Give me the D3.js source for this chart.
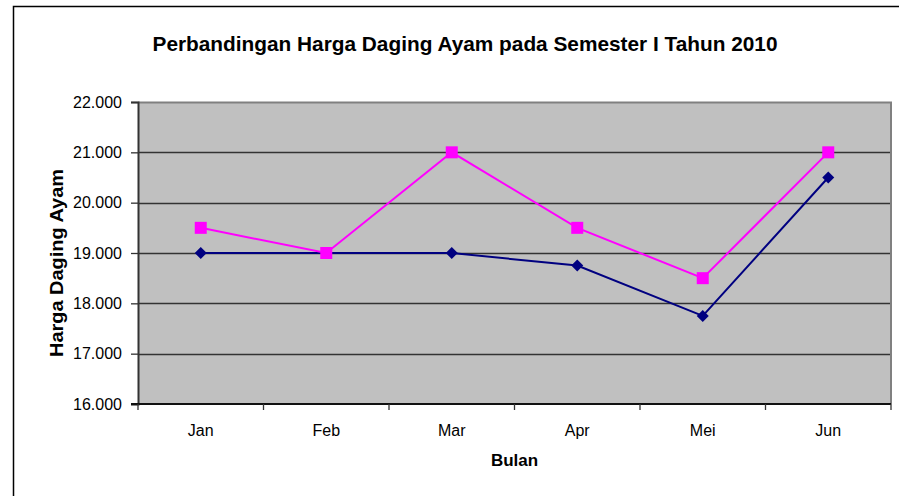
<!DOCTYPE html>
<html>
<head>
<meta charset="utf-8">
<script src="https://cdn.jsdelivr.net/npm/d3@7"></script>
<style>
  body { margin: 0; background: #fff; }
  text { font-family: Arial, "Liberation Sans", sans-serif; fill: #000; }
</style>
</head>
<body>
<div id="chart"></div>
<script>
// Data
const months = ["Jan", "Feb", "Mar", "Apr", "Mei", "Jun"];
const seriesNavy = [19000, 19000, 19000, 18750, 17750, 20500];
const seriesPink = [19500, 19000, 21000, 19500, 18500, 21000];
const yTicks = [16000, 17000, 18000, 19000, 20000, 21000, 22000];

const width = 899, height = 496;
const plot = { left: 138, right: 891, top: 102, bottom: 404 };

const svg = d3
  .select("#chart")
  .append("svg")
  .attr("width", width)
  .attr("height", height);

// outer chart border (continues past the picture)
svg
  .append("rect")
  .attr("x", 13.5)
  .attr("y", 6.5)
  .attr("width", 940)
  .attr("height", 540)
  .attr("fill", "#fff")
  .attr("stroke", "#000")
  .attr("stroke-width", 1.5);

// Title
svg
  .append("text")
  .attr("x", 465)
  .attr("y", 51)
  .style("text-anchor", "middle")
  .style("font-size", "20.5px")
  .style("font-weight", "bold")
  .attr("textLength", 625)
  .attr("lengthAdjust", "spacingAndGlyphs")
  .text("Perbandingan Harga Daging Ayam pada Semester I Tahun 2010");

// Scales
const x = d3
  .scaleBand()
  .domain(months)
  .range([plot.left, plot.right])
  .padding(0);

const y = d3
  .scaleLinear()
  .domain([16000, 22000])
  .range([plot.bottom, plot.top]);

const idFormat = d3.formatLocale({
  decimal: ",",
  thousands: ".",
  grouping: [3],
  currency: ["", ""],
}).format(",");

// Plot background
svg
  .append("rect")
  .attr("x", plot.left)
  .attr("y", plot.top)
  .attr("width", plot.right - plot.left)
  .attr("height", plot.bottom - plot.top)
  .attr("fill", "#c0c0c0");

// Gridlines
svg
  .append("g")
  .selectAll("line")
  .data(yTicks.slice(1, -1))
  .enter()
  .append("line")
  .attr("x1", plot.left)
  .attr("x2", plot.right)
  .attr("y1", (d) => Math.round(y(d)) + 0.5)
  .attr("y2", (d) => Math.round(y(d)) + 0.5)
  .attr("stroke", "#333")
  .attr("stroke-width", 1.3);

// Plot border top/right
svg
  .append("path")
  .attr("d", `M${plot.left},${plot.top + 0.5}H${plot.right}V${plot.bottom}`)
  .attr("fill", "none")
  .attr("stroke", "#808080")
  .attr("stroke-width", 2);

// Y axis
const yAxis = svg
  .append("g")
  .attr("transform", `translate(${plot.left},0)`)
  .call(
    d3.axisLeft(y)
      .tickValues(yTicks)
      .tickFormat(idFormat)
      .tickSize(7)
      .tickPadding(9)
  );
yAxis.select(".domain").attr("stroke", "#333").attr("stroke-width", 2);
yAxis.selectAll(".tick line").attr("stroke", "#333").attr("stroke-width", 1.3);
yAxis
  .selectAll("text")
  .style("font-size", "16px")
  .style("font-family", "Arial, 'Liberation Sans', sans-serif")
  .attr("fill", "#000");

// X axis line
svg
  .append("line")
  .attr("x1", plot.left - 7)
  .attr("x2", plot.right)
  .attr("y1", plot.bottom)
  .attr("y2", plot.bottom)
  .attr("stroke", "#111")
  .attr("stroke-width", 2);

// X ticks at category boundaries
const bounds = months.map((m) => x(m)).concat([x.range()[1]]);
svg
  .append("g")
  .selectAll("line")
  .data(bounds)
  .enter()
  .append("line")
  .attr("x1", (d) => d)
  .attr("x2", (d) => d)
  .attr("y1", plot.bottom)
  .attr("y2", plot.bottom + 6)
  .attr("stroke", "#333")
  .attr("stroke-width", 1.3);

// X labels
svg
  .append("g")
  .selectAll("text")
  .data(months)
  .enter()
  .append("text")
  .attr("x", (d) => x(d) + x.bandwidth() / 2)
  .attr("y", 436)
  .style("text-anchor", "middle")
  .style("font-size", "16px")
  .text((d) => d);

// Axis titles
svg
  .append("text")
  .attr("x", x.range()[0] + (x.range()[1] - x.range()[0]) / 2)
  .attr("y", 466)
  .style("text-anchor", "middle")
  .style("font-size", "17px")
  .style("font-weight", "bold")
  .text("Bulan");

svg
  .append("text")
  .attr("transform", "translate(63,263) rotate(-90)")
  .style("text-anchor", "middle")
  .style("font-size", "18px")
  .style("font-weight", "bold")
  .attr("textLength", 188)
  .attr("lengthAdjust", "spacingAndGlyphs")
  .text("Harga Daging Ayam");

// Lines
const cx = (i) => x(months[i]) + x.bandwidth() / 2;
const line = d3
  .line()
  .x((d, i) => cx(i))
  .y((d) => y(d));

svg
  .append("path")
  .datum(seriesNavy)
  .attr("d", line)
  .attr("fill", "none")
  .attr("stroke", "#000080")
  .attr("stroke-width", 2);

svg
  .append("path")
  .datum(seriesPink)
  .attr("d", line)
  .attr("fill", "none")
  .attr("stroke", "#ff00ff")
  .attr("stroke-width", 2);

// Markers
svg
  .append("g")
  .selectAll("path")
  .data(seriesNavy)
  .enter()
  .append("path")
  .attr("d", d3.symbol().type(d3.symbolSquare).size(72))
  .attr("transform", (d, i) => `translate(${cx(i)},${y(d)}) rotate(45)`)
  .attr("fill", "#000080");

svg
  .append("g")
  .selectAll("rect")
  .data(seriesPink)
  .enter()
  .append("rect")
  .attr("x", (d, i) => cx(i) - 6)
  .attr("y", (d) => y(d) - 6)
  .attr("width", 12)
  .attr("height", 12)
  .attr("fill", "#ff00ff");
</script>
</body>
</html>
